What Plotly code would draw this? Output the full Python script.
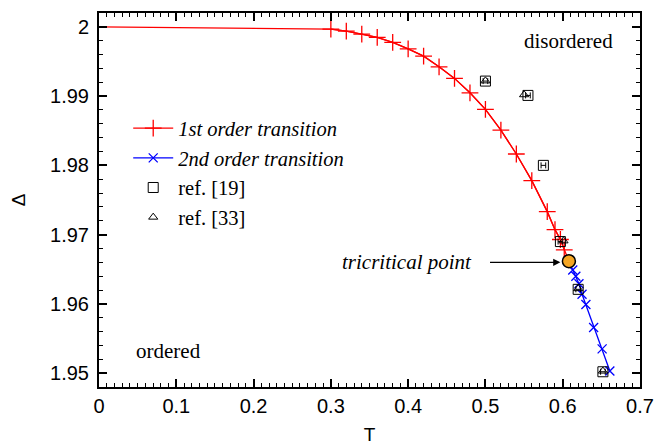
import plotly.graph_objects as go

# 1st order transition line
T1 = [0.0, 0.30, 0.32, 0.34, 0.36, 0.38, 0.40, 0.42, 0.44, 0.46, 0.48, 0.50,
      0.52, 0.54, 0.56, 0.58, 0.59, 0.597, 0.602, 0.608]
D1 = [2.0, 1.99967, 1.99938, 1.99895, 1.99847, 1.99775, 1.99683, 1.99577, 1.99423,
      1.99256, 1.99048, 1.98809, 1.98510, 1.98164, 1.97779, 1.97332, 1.97072,
      1.96930, 1.96780, 1.96616]
M1 = [False] + [True] * 18 + [False]

# 2nd order transition line
T2 = [0.608, 0.613, 0.617, 0.621, 0.625, 0.630, 0.640, 0.651, 0.661]
D2 = [1.96616, 1.96490, 1.96400, 1.96290, 1.96140, 1.95990, 1.95660, 1.95350, 1.95030]

# ref. [19]
T19 = [0.500, 0.555, 0.575, 0.597, 0.620, 0.652]
D19 = [1.99217, 1.99010, 1.98000, 1.96900, 1.96210, 1.95020]
E19 = [0.003, 0.003, 0.003, 0.003, 0.003, 0.003]

# ref. [33]
T33 = [0.500, 0.550, 0.601, 0.620, 0.652]
D33 = [1.99220, 1.99020, 1.96910, 1.96220, 1.95030]

# tricritical point
TC = [0.608]
DC = [1.96616]

# tick labels
XTICKS = [0, 0.1, 0.2, 0.3, 0.4, 0.5, 0.6, 0.7]
XTICKTEXT = ["0", "0.1", "0.2", "0.3", "0.4", "0.5", "0.6", "0.7"]
YTICKS = [1.95, 1.96, 1.97, 1.98, 1.99, 2.0]
YTICKTEXT = ["1.95", "1.96", "1.97", "1.98", "1.99", "2"]

serif = "Liberation Serif"
sans = "Liberation Sans"

fig = go.Figure()

fig.add_trace(go.Scatter(x=T1, y=D1, mode="lines", line=dict(color="red", width=1.3),
                         showlegend=False, hoverinfo="skip", cliponaxis=False))
fig.add_trace(go.Scatter(x=[t for t, m in zip(T1, M1) if m], y=[d for d, m in zip(D1, M1) if m],
                         mode="lines+markers", name="<i>1st order transition</i>",
                         line=dict(color="red", width=1.3),
                         marker=dict(symbol="cross-thin", size=12, color="red",
                                     line=dict(color="red", width=1.3)),
                         legendgroup="a"))
fig.add_trace(go.Scatter(x=T2, y=D2, mode="lines+markers", name="<i>2nd order transition</i>",
                         line=dict(color="blue", width=1.3),
                         marker=dict(symbol="x-thin", size=9, color="blue",
                                     line=dict(color="blue", width=1.3)),
                         legendgroup="b"))
fig.add_trace(go.Scatter(x=T19, y=D19, mode="markers", name="ref. [19]",
                         error_x=dict(type="data", array=E19, color="black", thickness=1, width=3),
                         marker=dict(symbol="square-open", size=10, color="black",
                                     line=dict(color="black", width=1)),
                         legendgroup="c"))
fig.add_trace(go.Scatter(x=T33, y=D33, mode="markers", name="ref. [33]",
                         marker=dict(symbol="triangle-up-open", size=8, color="black",
                                     line=dict(color="black", width=1)),
                         legendgroup="d"))
fig.add_trace(go.Scatter(x=TC, y=DC, mode="markers", showlegend=False,
                         marker=dict(symbol="circle", size=13, color="#f5a623",
                                     line=dict(color="black", width=1.5))))

axis_common = dict(showline=True, linecolor="black", linewidth=2, mirror="allticks",
                   ticks="inside", ticklen=8, tickwidth=1.5, tickcolor="black",
                   showgrid=False, zeroline=False, automargin=False, tickmode="array",
                   tickfont=dict(family=sans, size=20, color="black"))

fig.update_xaxes(range=[0, 0.7], tickvals=XTICKS, ticktext=XTICKTEXT,
                 minor=dict(dtick=0.01, ticks="inside", ticklen=4, tickcolor="black", tickwidth=1),
                 title=dict(text="T", font=dict(family=sans, size=19, color="black"), standoff=12),
                 **axis_common)
fig.update_yaxes(range=[1.948, 2.002], tickvals=YTICKS, ticktext=YTICKTEXT,
                 ticklabelstandoff=4,
                 minor=dict(dtick=0.002, ticks="inside", ticklen=4, tickcolor="black", tickwidth=1),
                 title=dict(text="Δ", font=dict(family=sans, size=19, color="black"), standoff=20),
                 **axis_common)

fig.update_layout(
    width=668, height=445,
    margin=dict(l=91, r=36, t=5, b=66),
    plot_bgcolor="white", paper_bgcolor="white",
    legend=dict(x=0.054, y=0.745, xanchor="left", yanchor="top",
                font=dict(family=serif, size=20.5, color="black"),
                itemwidth=40,
                bgcolor="rgba(0,0,0,0)", traceorder="grouped", tracegroupgap=0),
    annotations=[
        dict(x=0.608, y=1.9980, xref="x", yref="y", text="disordered", showarrow=False,
             font=dict(family=serif, size=21, color="black")),
        dict(x=0.0905, y=1.9532, xref="x", yref="y", text="ordered", showarrow=False,
             font=dict(family=serif, size=21, color="black")),
        dict(x=0.4846, y=1.966, xref="x", yref="y", text="<i>tricritical point</i>",
             showarrow=False, xanchor="right",
             font=dict(family=serif, size=21, color="black")),
        dict(x=0.597, y=1.966, xref="x", yref="y", ax=0.504, ay=1.966, axref="x", ayref="y",
             text="", showarrow=True, arrowhead=2, arrowsize=1.2, arrowwidth=1.2,
             arrowcolor="black"),
    ],
)

fig.write_html("out.html")
